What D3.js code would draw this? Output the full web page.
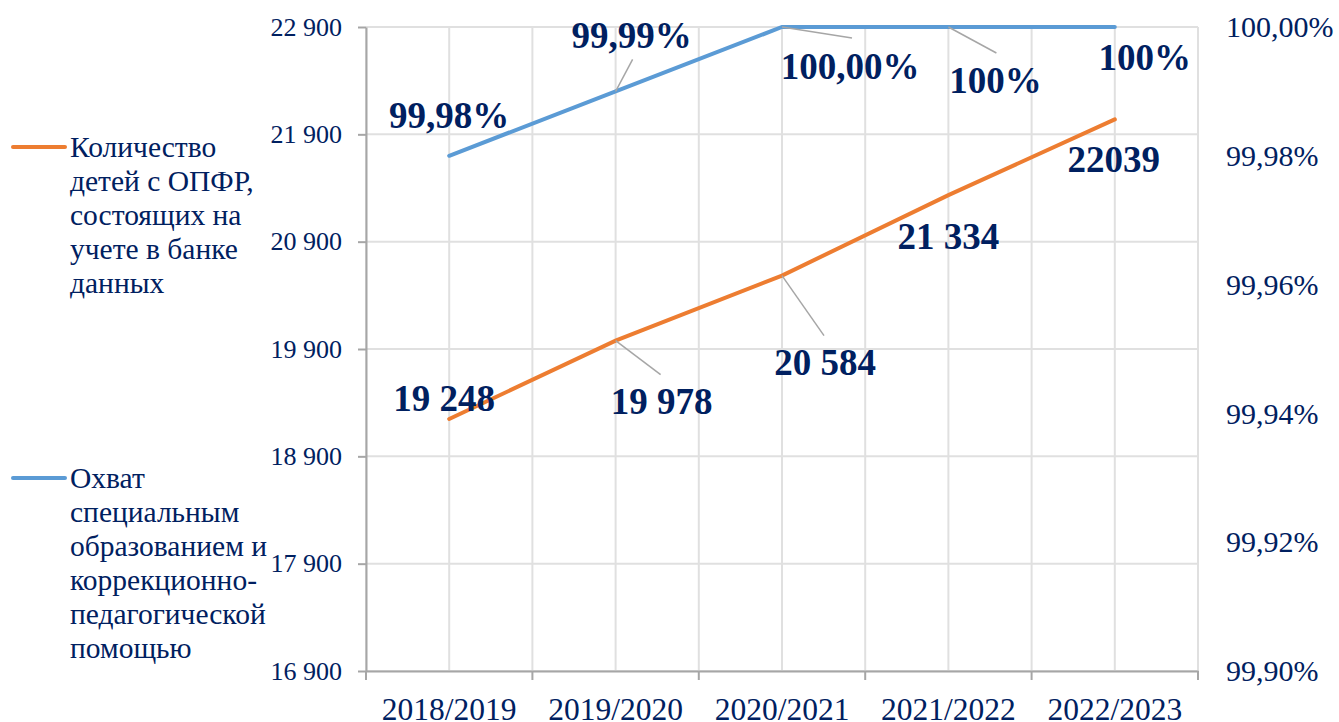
<!DOCTYPE html>
<html>
<head>
<meta charset="utf-8">
<script src="https://cdn.jsdelivr.net/npm/d3@7"></script>
<style>
  body { margin: 0; background: #fff; }
  svg text { font-family: "Times New Roman", "Liberation Serif", "DejaVu Serif", serif; fill: #002060; }
</style>
</head>
<body>
<div id="chart"></div>
<script>
const seasons = ['2018/2019', '2019/2020', '2020/2021', '2021/2022', '2022/2023']
const childrenCount = [19248, 19978, 20584, 21334, 22039]
const coverageShare = [99.98, 99.99, 100.00, 100.00, 100.00]
const countLabels = ['19 248', '19 978', '20 584', '21 334', '22039']
const coverageLabels = ['99,98%', '99,99%', '100,00%', '100%', '100%']
const leftTicks = [16900, 17900, 18900, 19900, 20900, 21900, 22900]
const rightTicks = [99.90, 99.92, 99.94, 99.96, 99.98, 100.00]
const countLegend = ['Количество', 'детей с ОПФР,', 'состоящих на', 'учете в банке', 'данных']
const coverageLegend = ['Охват', 'специальным', 'образованием и', 'коррекционно-', 'педагогической', 'помощью']

// label placement (offsets from the point, px)
const countLabelPos = [
    { dx: -5, dy: -21 },
    { dx: 46, dy: 60, lx: 45, ly: 34 },
    { dx: 43, dy: 86, lx: 42, ly: 60 },
    { dx: 0, dy: 41 },
    { dx: -1, dy: 40 }
]
const coverageLabelPos = [
    { dx: 0, dy: -41 },
    { dx: 16, dy: -56, lx: 17, ly: -32 },
    { dx: 68, dy: 39, lx: 70, ly: 11 },
    { dx: 47, dy: 53, lx: 48, ly: 26 },
    { dx: 30, dy: 30 }
]

const orange = '#ED7D31'
const blue = '#5B9BD5'
const gridColor = '#E0E0E0'
const axisColor = '#A6A6A6'
const serif = '"Times New Roman", "Liberation Serif", "DejaVu Serif", serif'

const width = 1339
const height = 722
const margin = { top: 27, right: 141, bottom: 51, left: 366 }

const svg = d3.select('#chart')
    .append('svg')
    .attr('width', width)
    .attr('height', height)

const x = d3.scaleBand()
    .domain(seasons)
    .range([margin.left, width - margin.right])
const xc = d => x(d) + x.bandwidth() / 2

const y = d3.scaleLinear()
    .domain([16900, 22900])
    .range([height - margin.bottom, margin.top])

const yR = d3.scaleLinear()
    .domain([99.90, 100.00])
    .range([height - margin.bottom, margin.top])

const boundaries = seasons.map(d => x(d)).concat([x.range()[1]])

// grid
svg.append('g')
    .selectAll('line')
    .data(leftTicks)
    .enter()
    .append('line')
    .attr('x1', margin.left)
    .attr('x2', width - margin.right)
    .attr('y1', d => y(d))
    .attr('y2', d => y(d))
    .attr('stroke', gridColor)
    .attr('stroke-width', 2)

svg.append('g')
    .selectAll('line')
    .data(boundaries.concat(seasons.map(xc)))
    .enter()
    .append('line')
    .attr('x1', d => d)
    .attr('x2', d => d)
    .attr('y1', margin.top)
    .attr('y2', height - margin.bottom)
    .attr('stroke', gridColor)
    .attr('stroke-width', 2)

// left axis
const leftAxis = svg.append('g')
    .attr('transform', `translate(${margin.left}, 0)`)
    .call(d3.axisLeft(y)
        .tickValues(leftTicks)
        .tickSize(8)
        .tickSizeOuter(0)
        .tickPadding(16)
        .tickFormat(d => d3.format(',')(d).replace(',', ' '))
    )
    .attr('font-family', serif)
leftAxis.select('.domain').attr('stroke', axisColor).attr('stroke-width', 2)
leftAxis.selectAll('line').attr('stroke', axisColor).attr('stroke-width', 2)
leftAxis.selectAll('text')
    .attr('font-size', 26)
    .attr('fill', '#002060')

// right axis
const rightAxis = svg.append('g')
    .attr('transform', `translate(${width - margin.right}, 0)`)
    .call(d3.axisRight(yR)
        .tickValues(rightTicks)
        .tickSize(0)
        .tickPadding(28)
        .tickFormat(d => d.toFixed(2).replace('.', ',') + '%')
    )
    .attr('font-family', serif)
rightAxis.select('.domain').remove()
rightAxis.selectAll('text')
    .attr('font-size', 30)
    .attr('fill', '#002060')

// bottom axis
const bottomAxis = svg.append('g')
    .attr('transform', `translate(0, ${height - margin.bottom})`)
    .call(d3.axisBottom(x).tickSize(0).tickSizeOuter(0))
    .attr('font-family', serif)
bottomAxis.select('.domain').attr('stroke', axisColor).attr('stroke-width', 2)
bottomAxis.selectAll('text')
    .attr('y', 49)
    .attr('dy', 0)
    .attr('font-size', 31.5)
    .attr('fill', '#002060')
bottomAxis.selectAll('.bound')
    .data(boundaries)
    .enter()
    .append('line')
    .attr('class', 'bound')
    .attr('x1', d => d)
    .attr('x2', d => d)
    .attr('y1', 0)
    .attr('y2', 9)
    .attr('stroke', axisColor)
    .attr('stroke-width', 2)

// lines
const countLine = d3.line()
    .x((d, i) => xc(seasons[i]))
    .y(d => y(d))
const coverageLine = d3.line()
    .x((d, i) => xc(seasons[i]))
    .y(d => yR(d))

svg.append('path')
    .datum(childrenCount)
    .attr('fill', 'none')
    .attr('stroke', orange)
    .attr('stroke-width', 4)
    .attr('stroke-linecap', 'round')
    .attr('d', countLine)

svg.append('path')
    .datum(coverageShare)
    .attr('fill', 'none')
    .attr('stroke', blue)
    .attr('stroke-width', 4)
    .attr('stroke-linecap', 'round')
    .attr('d', coverageLine)

// data labels
function drawLabels(values, labels, pos, scale) {
    const g = svg.append('g')
    values.forEach((v, i) => {
        const px = xc(seasons[i])
        const py = scale(v)
        const p = pos[i]
        if (p.lx !== undefined) {
            g.append('line')
                .attr('x1', px)
                .attr('y1', py)
                .attr('x2', px + p.lx)
                .attr('y2', py + p.ly)
                .attr('stroke', axisColor)
                .attr('stroke-width', 1.5)
        }
        g.append('text')
            .attr('x', px + p.dx)
            .attr('y', py + p.dy)
            .attr('dy', '0.35em')
            .attr('text-anchor', 'middle')
            .attr('font-size', 37)
            .attr('font-weight', 'bold')
            .text(labels[i])
    })
}
drawLabels(childrenCount, countLabels, countLabelPos, y)
drawLabels(coverageShare, coverageLabels, coverageLabelPos, yR)

// legend
function drawLegend(lines, color, top) {
    const g = svg.append('g')
    g.append('line')
        .attr('x1', 13)
        .attr('x2', 65)
        .attr('y1', top)
        .attr('y2', top)
        .attr('stroke', color)
        .attr('stroke-width', 4)
        .attr('stroke-linecap', 'round')
    g.append('text')
        .attr('font-size', 29.5)
        .selectAll('tspan')
        .data(lines)
        .enter()
        .append('tspan')
        .attr('x', 70)
        .attr('y', (d, i) => top + 10 + i * 34)
        .text(d => d)
}
drawLegend(countLegend, orange, 147)
drawLegend(coverageLegend, blue, 478)
</script>
</body>
</html>
